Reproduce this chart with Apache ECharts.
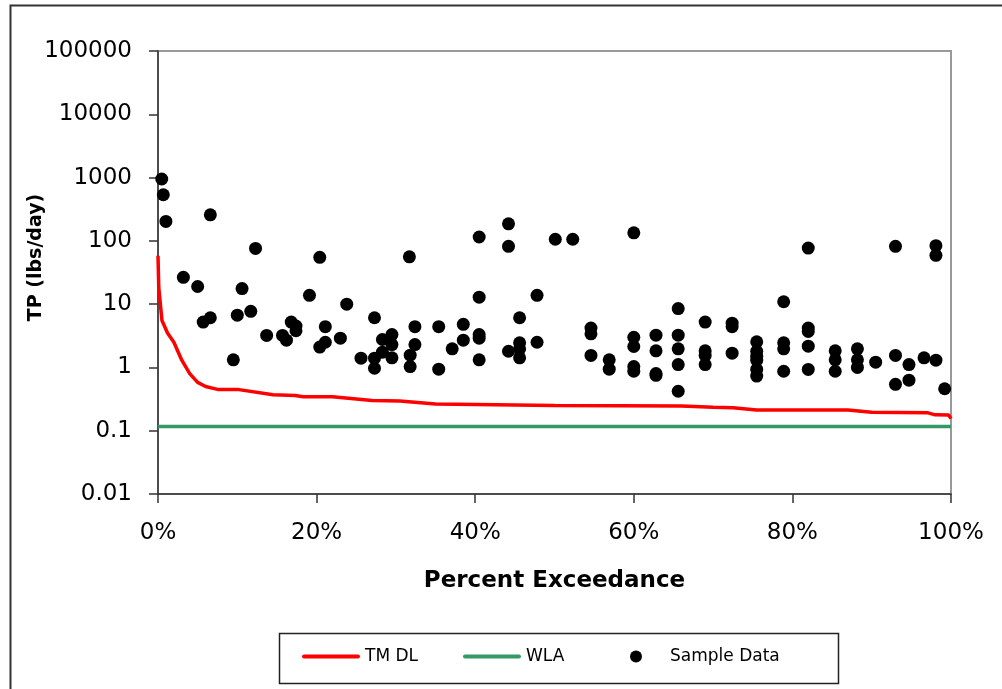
<!DOCTYPE html>
<html>
<head>
<meta charset="utf-8">
<script src="https://cdn.jsdelivr.net/npm/echarts@6/dist/echarts.min.js"></script>
<style>html,body{margin:0;padding:0;background:#fff;}#c{width:1002px;height:689px;}</style>
</head>
<body>
<div id="c"></div>
<script>
// TMDL load duration curve (percent exceedance, lbs/day)
const tmdlX = [0, 0.1, 0.5, 1.2, 2, 3, 4, 5, 6, 7.5, 10, 14.5, 17.3, 18.3, 22, 27, 30.5, 35, 50, 66, 70, 72.5, 75.5, 87, 90, 97, 98, 99.7, 100];
const tmdlY = [58, 18, 5.5, 3.5, 2.5, 1.3, 0.8, 0.58, 0.5, 0.45, 0.45, 0.37, 0.36, 0.345, 0.345, 0.3, 0.295, 0.265, 0.25, 0.245, 0.235, 0.23, 0.212, 0.212, 0.195, 0.193, 0.178, 0.177, 0.155];
// WLA
const wlaX = [0, 100];
const wlaY = [0.117, 0.117];
// Sample data
const sampleX = [0.47, 0.67, 1.0, 6.6, 12.3, 3.2, 5.0, 10.6, 20.4, 31.7,
  5.7, 6.6, 10.0, 11.7, 19.1, 23.8, 27.3, 32.4, 9.5, 13.7,
  15.7, 16.2, 16.8, 17.4, 17.4, 21.1, 20.4, 21.1, 23.0, 25.6,
  27.3, 27.3, 28.3, 29.5, 29.5, 28.3, 29.5, 31.8, 31.8, 32.4,
  35.4, 35.4, 37.1, 38.5, 38.5, 40.5, 40.5, 40.5, 40.5, 40.5,
  44.2, 44.2, 44.2, 45.6, 45.6, 45.6, 45.6, 47.8, 47.8, 50.1,
  52.3, 54.6, 54.6, 54.6, 56.9, 56.9, 60.0, 60.0, 60.0, 60.0,
  60.0, 62.8, 62.8, 62.8, 62.8, 65.6, 65.6, 65.6, 65.6, 65.6,
  69.0, 69.0, 69.0, 69.0, 72.4, 72.4, 72.4, 75.5, 75.5, 75.5,
  75.5, 75.5, 75.5, 78.9, 78.9, 78.9, 78.9, 82.0, 82.0, 82.0,
  82.0, 82.0, 85.4, 85.4, 85.4, 88.2, 88.2, 88.2, 90.5, 93.0,
  93.0, 93.0, 94.7, 94.7, 96.6, 98.1, 98.1, 98.1, 99.2];
const sampleY = [950, 535, 203, 258, 76, 26.5, 19, 17.6, 55, 56,
  5.2, 6.1, 6.7, 7.7, 13.8, 10, 6.1, 4.4, 1.32, 3.2,
  3.2, 2.7, 5.2, 4.5, 3.8, 4.4, 2.1, 2.5, 2.9, 1.4,
  1.4, 0.97, 2.76, 3.3, 2.3, 1.74, 1.42, 1.56, 1.03, 2.3,
  4.4, 0.94, 1.97, 4.8, 2.7, 115, 12.9, 3.3, 2.9, 1.32,
  186, 82, 1.8, 6.1, 2.45, 1.97, 1.42, 13.8, 2.5, 106,
  106, 4.2, 3.4, 1.55, 1.32, 0.94, 134, 3.0, 2.14, 1.03,
  0.87, 3.23, 1.83, 0.8, 0.75, 8.5, 3.23, 1.97, 1.11, 0.42,
  5.2, 1.83, 1.55, 1.11, 5.0, 4.4, 1.68, 2.54, 1.8, 1.5,
  1.3, 0.93, 0.73, 10.9, 2.45, 1.97, 0.87, 77, 4.2, 3.7,
  2.17, 0.93, 1.83, 1.32, 0.87, 1.97, 1.32, 1.0, 1.21, 82,
  1.55, 0.54, 1.11, 0.63, 1.42, 84, 59, 1.3, 0.46];
const xTicks = [0, 20, 40, 60, 80, 100];
const yTicks = [0.01, 0.1, 1, 10, 100, 1000, 10000, 100000];

const zip = (a, b) => a.map((v, i) => [v, b[i]]);
const font = 'DejaVu Sans';
const lineIcon = 'path://M2,0H56A2,2 0 0 1 56,4H2A2,2 0 0 1 2,0Z';

const legendBase = {
  top: 648, padding: 0, itemGap: 0, itemWidth: 58, itemHeight: 12,
  textStyle: {fontFamily: font, fontSize: 17, color: '#000'}
};

const chart = echarts.init(document.getElementById('c'), null, {renderer: 'canvas'});
chart.setOption({
  backgroundColor: '#fff',
  animation: false,
  graphic: [{
    type: 'rect', shape: {x: 10.5, y: 5.5, width: 1000, height: 700},
    style: {fill: 'none', stroke: '#333', lineWidth: 2}, silent: true
  }, {
    type: 'rect', shape: {x: 279.5, y: 633.5, width: 559, height: 50},
    style: {fill: 'none', stroke: '#222', lineWidth: 1.5}, silent: true
  }],
  grid: {left: 158, right: 51, top: 51, bottom: 195, show: true, borderColor: '#999', borderWidth: 2, backgroundColor: 'transparent'},
  xAxis: {
    type: 'value', min: xTicks[0], max: xTicks[xTicks.length - 1], interval: 20,
    name: 'Percent Exceedance', nameLocation: 'middle', nameGap: 76,
    nameTextStyle: {fontFamily: font, fontSize: 23, fontWeight: 'bold', color: '#000'},
    axisLine: {show: true, onZero: false, lineStyle: {color: '#333', width: 1.5}},
    axisTick: {show: true, inside: false, length: 9, lineStyle: {color: '#333', width: 1.5}},
    axisLabel: {fontFamily: font, fontSize: 23, color: '#000', margin: 28, formatter: v => v + '%'},
    splitLine: {show: false}
  },
  yAxis: {
    type: 'log', logBase: 10, min: yTicks[0], max: yTicks[yTicks.length - 1], interval: 1,
    name: 'TP (lbs/day)', nameLocation: 'middle', nameGap: 112, nameRotate: 90,
    nameMoveOverlap: false,
    nameTextStyle: {fontFamily: font, fontSize: 19, fontWeight: 'bold', color: '#000', padding: [0, 0, 0, 30]},
    axisLine: {show: true, lineStyle: {color: '#333', width: 1.5}},
    axisTick: {show: true, inside: false, length: 9, lineStyle: {color: '#333', width: 1.5}},
    axisLabel: {fontFamily: font, fontSize: 23, color: '#000', margin: 26,
      formatter: v => String(Number(Number(v).toPrecision(6)))},
    splitLine: {show: false},
    minorTick: {show: false}
  },
  legend: [
    Object.assign({}, legendBase, {left: 302, data: [{name: 'TM DL', icon: lineIcon}]}),
    Object.assign({}, legendBase, {left: 463, data: [{name: 'WLA', icon: lineIcon}]}),
    Object.assign({}, legendBase, {left: 630, data: [{name: 'Sample Data', icon: 'circle'}]})
  ],
  series: [
    {name: 'TM DL', type: 'line', data: zip(tmdlX, tmdlY), symbol: 'none', showSymbol: false,
      lineStyle: {color: '#ff0000', width: 3.5}, itemStyle: {color: '#ff0000'}, z: 2},
    {name: 'WLA', type: 'line', data: zip(wlaX, wlaY), symbol: 'none', showSymbol: false,
      lineStyle: {color: '#339966', width: 3.5}, itemStyle: {color: '#339966'}, z: 2},
    {name: 'Sample Data', type: 'scatter', data: zip(sampleX, sampleY), symbol: 'circle', symbolSize: 13,
      itemStyle: {color: '#000', opacity: 1}, z: 3}
  ]
});
</script>
</body>
</html>
